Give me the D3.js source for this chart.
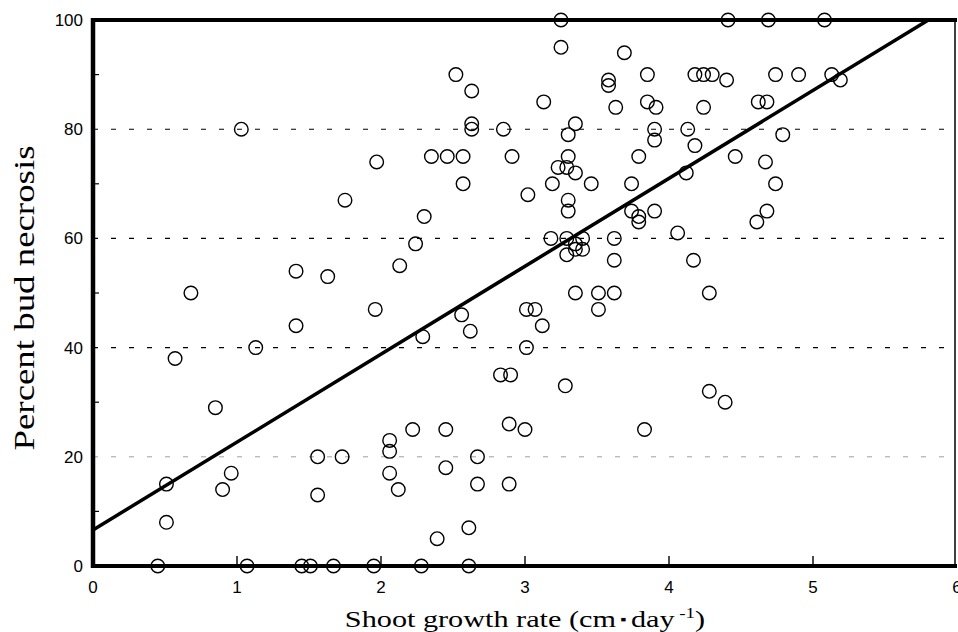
<!DOCTYPE html>
<html>
<head>
<meta charset="utf-8">
<script src="https://cdn.jsdelivr.net/npm/d3@7"></script>
<style>
  body { margin: 0; background: #fff; }
  .tick-label { font-family: "Liberation Sans", Arial, sans-serif; font-size: 17px; fill: #000; }
  .title { font-family: "Liberation Serif", "Times New Roman", serif; fill: #000; }
</style>
</head>
<body>
<div id="chart"></div>
<script>
// data: shoot growth rate (cm/day) vs percent bud necrosis
var growth = [
  0.45, 1.07, 1.45, 1.51, 1.67, 1.95, 2.28, 2.61,
  0.51, 0.51, 0.85, 0.90, 0.96, 1.56, 1.56, 1.73,
  2.06, 2.06, 2.06, 2.12, 2.22, 2.45, 2.45, 2.67, 2.67, 2.89, 2.89, 2.39, 2.61, 3.00,
  3.28, 2.83, 2.90, 3.83, 4.28, 4.39,
  0.57, 0.68, 1.13, 1.41, 1.41, 1.63, 1.96, 2.13, 2.24, 2.29, 2.30, 2.56, 2.62,
  3.01, 3.01, 3.07, 3.12, 3.35, 3.51, 3.51, 3.62, 4.28, 4.17, 4.06, 3.62, 3.62,
  3.18, 3.29, 3.35, 3.40, 3.40, 3.35, 3.29,
  3.30, 3.30, 3.74, 3.79, 3.79, 3.90, 4.61, 4.68,
  1.75, 1.97, 2.57, 3.02, 3.19, 3.46, 3.74, 4.12, 4.74, 4.67,
  2.35, 2.46, 2.57, 2.91, 3.30, 3.79, 4.46,
  3.23, 3.29, 3.35,
  1.03, 2.63, 2.63, 2.85, 3.35, 3.30, 3.90, 3.90, 4.13, 4.18, 4.79,
  3.13, 3.63, 3.85, 3.91, 4.24, 4.62, 4.68,
  2.52, 2.63, 3.58, 3.58, 3.85, 4.18, 4.24, 4.30, 4.40, 4.74, 4.90, 5.13, 5.19,
  3.25, 3.69,
  3.25, 4.41, 4.69, 5.08
];
var necrosis = [
  0, 0, 0, 0, 0, 0, 0, 0,
  15, 8, 29, 14, 17, 20, 13, 20,
  23, 21, 17, 14, 25, 25, 18, 20, 15, 15, 26, 5, 7, 25,
  33, 35, 35, 25, 32, 30,
  38, 50, 40, 44, 54, 53, 47, 55, 59, 42, 64, 46, 43,
  40, 47, 47, 44, 50, 50, 47, 50, 50, 56, 61, 56, 60,
  60, 60, 59, 60, 58, 58, 57,
  67, 65, 65, 64, 63, 65, 63, 65,
  67, 74, 70, 68, 70, 70, 70, 72, 70, 74,
  75, 75, 75, 75, 75, 75, 75,
  73, 73, 72,
  80, 80, 81, 80, 81, 79, 80, 78, 80, 77, 79,
  85, 84, 85, 84, 84, 85, 85,
  90, 87, 89, 88, 90, 90, 90, 90, 89, 90, 90, 90, 89,
  95, 94,
  100, 100, 100, 100
];
var xTicks = [0, 1, 2, 3, 4, 5, 6];
var yTicks = [0, 20, 40, 60, 80, 100];
var yMinor = [10, 30, 50, 70, 90];
var gridValues = [20, 40, 60, 80];
// fitted line
var fitIntercept = 6.6;
var fitSlope = 16.1;

var points = growth.map(function(g, i) { return { x: g, y: necrosis[i] }; });

var width = 958, height = 632;
var margin = { left: 93, right: 1, top: 20, bottom: 66 };

var svg = d3.select("#chart").append("svg")
  .attr("width", width)
  .attr("height", height);

var x = d3.scaleLinear().domain([0, 6]).range([margin.left, width - margin.right]);
var y = d3.scaleLinear().domain([0, 100]).range([height - margin.bottom, margin.top]);

// grid lines
svg.selectAll(".grid")
  .data(gridValues)
  .enter().append("line")
    .attr("class", "grid")
    .attr("x1", x(0))
    .attr("x2", x(6))
    .attr("y1", function(d) { return y(d); })
    .attr("y2", function(d) { return y(d); })
    .attr("stroke", function(d) { return d == 20 ? "#888" : "#000"; })
    .attr("stroke-width", function(d) { return d == 20 ? 0.8 : 1.1; })
    .attr("stroke-dasharray", "5,13");

// minor ticks on y axis (pointing inward)
svg.selectAll(".ytick")
  .data(yMinor)
  .enter().append("line")
    .attr("x1", x(0))
    .attr("x2", x(0) + 6)
    .attr("y1", function(d) { return y(d); })
    .attr("y2", function(d) { return y(d); })
    .attr("stroke", "#000")
    .attr("stroke-width", 1.2);

// x ticks pointing up
svg.selectAll(".xtick")
  .data(xTicks.slice(1, 6))
  .enter().append("line")
    .attr("x1", function(d) { return x(d); })
    .attr("x2", function(d) { return x(d); })
    .attr("y1", y(0))
    .attr("y2", y(0) - 10)
    .attr("stroke", "#000")
    .attr("stroke-width", 1.4);

// points
svg.selectAll(".dot")
  .data(points)
  .enter().append("circle")
    .attr("class", "dot")
    .attr("cx", function(d) { return x(d.x); })
    .attr("cy", function(d) { return y(d.y); })
    .attr("r", 6.8)
    .attr("fill", "none")
    .attr("stroke", "#000")
    .attr("stroke-width", 1.4);

// regression line, stopped at 100 %
var xEnd = (100 - fitIntercept) / fitSlope;
svg.append("line")
  .attr("x1", x(0))
  .attr("y1", y(fitIntercept))
  .attr("x2", x(xEnd))
  .attr("y2", y(100))
  .attr("stroke", "#000")
  .attr("stroke-width", 3.5);

// frame: heavy left, bottom, top; thin right
svg.append("line")
  .attr("x1", x(0)).attr("x2", x(0))
  .attr("y1", y(100) - 2).attr("y2", y(0) + 2)
  .attr("stroke", "#000").attr("stroke-width", 4.5);
svg.append("line")
  .attr("x1", x(0) - 2).attr("x2", x(6))
  .attr("y1", y(0)).attr("y2", y(0))
  .attr("stroke", "#000").attr("stroke-width", 4);
svg.append("line")
  .attr("x1", x(0) - 2).attr("x2", x(6))
  .attr("y1", y(100)).attr("y2", y(100))
  .attr("stroke", "#000").attr("stroke-width", 4);
svg.append("line")
  .attr("x1", x(6) - 2).attr("x2", x(6) - 2)
  .attr("y1", y(100)).attr("y2", y(0))
  .attr("stroke", "#000").attr("stroke-width", 1.5);

// tick labels
svg.selectAll(".xlab")
  .data(xTicks)
  .enter().append("text")
    .attr("class", "tick-label")
    .attr("x", function(d) { return x(d); })
    .attr("y", y(0) + 27)
    .attr("text-anchor", "middle")
    .text(function(d) { return d; });

svg.selectAll(".ylab")
  .data(yTicks)
  .enter().append("text")
    .attr("class", "tick-label")
    .attr("x", x(0) - 10)
    .attr("y", function(d) { return y(d) + 6; })
    .attr("text-anchor", "end")
    .text(function(d) { return d; });

// axis titles (the scan is a little stretched, so widen the type)
var xt = svg.append("text")
  .attr("class", "title")
  .attr("font-size", "24px")
  .attr("transform", "translate(" + ((x(0) + x(6)) / 2) + ",627) scale(1.26,1)")
  .attr("text-anchor", "middle");
xt.append("tspan").text("Shoot growth rate (cm");
xt.append("tspan").attr("font-size", "14px").attr("dy", -3).text(" \u25AA ");
xt.append("tspan").attr("dy", 3).text("day");
xt.append("tspan").attr("font-size", "15px").attr("dy", -9).text(" -1");
xt.append("tspan").attr("dy", 9).text(")");

svg.append("text")
  .attr("class", "title")
  .attr("font-size", "29px")
  .attr("transform", "translate(34," + ((y(0) + y(100)) / 2 + 5) + ") rotate(-90)")
  .attr("text-anchor", "middle")
  .attr("textLength", 305)
  .attr("lengthAdjust", "spacingAndGlyphs")
  .text("Percent bud necrosis");
</script>
</body>
</html>
